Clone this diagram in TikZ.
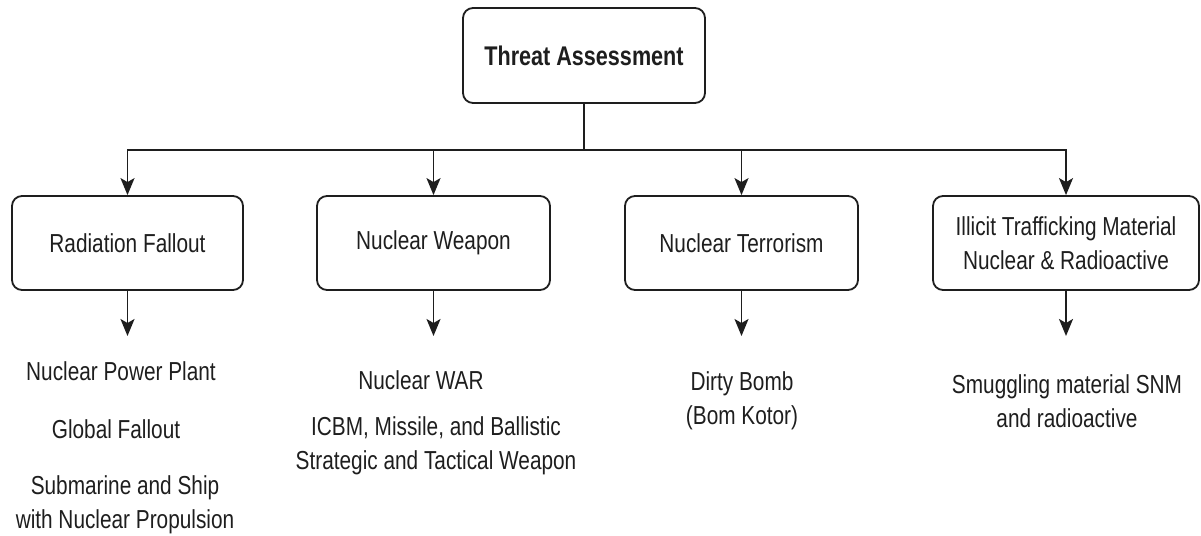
\documentclass[tikz,border=0pt]{standalone}
\usepackage{fontspec}
\setmainfont{Liberation Sans}[FakeStretch=0.8]
\usetikzlibrary{arrows.meta}
\definecolor{ink}{HTML}{1E1E1E}
\tikzset{
  box/.style={draw=ink, line width=1.8pt, rounded corners=10pt, fill=white,
    minimum height=94pt, align=center, inner sep=0pt, text=ink,
    font=\fontsize{26}{34}\selectfont},
  lbl/.style={align=center, inner sep=0pt, text=ink, font=\fontsize{26}{34}\selectfont},
  conn/.style={draw=ink, line width=1.8pt},
  arr/.style={conn, -{Stealth[length=17pt,width=14pt,inset=4pt]}}
}
\begin{document}
\begin{tikzpicture}[x=1pt,y=-1pt]
\useasboundingbox (0,0) rectangle (1201,535);
\node[box, minimum width=242pt, minimum height=95pt,
  font=\fontsize{27}{34}\selectfont\bfseries] (top) at (584,55.5) {Threat Assessment};
\node[box, minimum width=231pt] (b1) at (127.5,243) {Radiation Fallout};
\node[box, minimum width=233pt] (b2) at (433.5,243) {Nuclear Weapon};
\node[box, minimum width=233pt] (b3) at (741.5,243) {Nuclear Terrorism};
\node[box, minimum width=266pt] (b4) at (1066,243) {Illicit Trafficking Material\\Nuclear \& Radioactive};

\coordinate (j) at (584,150);
\draw[conn] (top.south) -- (j);
\draw[arr] (j) -| (b1.north);
\draw[arr] (j) -| (b2.north);
\draw[arr] (j) -| (b3.north);
\draw[arr] (j) -| (b4.north);

\coordinate (e1) at (127.5,336);
\coordinate (e2) at (433.5,336);
\coordinate (e3) at (741.5,336);
\coordinate (e4) at (1066,336);
\draw[arr] (b1.south) -- (e1);
\draw[arr] (b2.south) -- (e2);
\draw[arr] (b3.south) -- (e3);
\draw[arr] (b4.south) -- (e4);

\node[lbl] (t1a) at (121,371) {Nuclear Power Plant};
\node[lbl] (t1b) at (116,429) {Global Fallout};
\node[lbl] (t1c) at (125,505) {Submarine and Ship\\with Nuclear Propulsion};
\node[lbl] (t2a) at (421,380) {Nuclear WAR};
\node[lbl] (t2b) at (436,446) {ICBM, Missile, and Ballistic\\Strategic and Tactical Weapon};
\node[lbl] (t3) at (742,401) {Dirty Bomb\\(Bom Kotor)};
\node[lbl] (t4) at (1067,401) {Smuggling material SNM\\and radioactive};
\end{tikzpicture}
\end{document}
